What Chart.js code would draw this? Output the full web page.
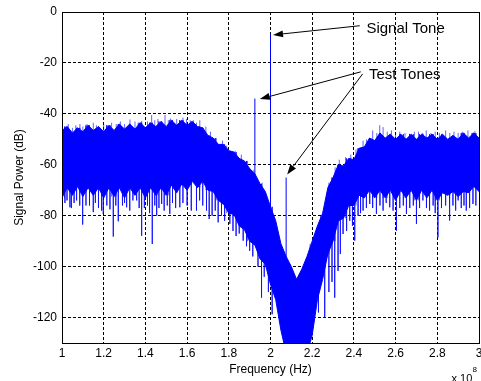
<!DOCTYPE html>
<html>
<head>
<meta charset="utf-8">
<script src="https://cdn.jsdelivr.net/npm/chart.js@4.4.0/dist/chart.umd.min.js"></script>
<style>
  html, body { margin: 0; padding: 0; background: #fff; overflow: hidden; }
  canvas { display: block; }
</style>
</head>
<body>
<canvas id="spectrum" width="481" height="381"></canvas>
<script>
// Frequencies are in units of 1e8 Hz, power in dB.

// Sample grid of the noise floor band
const bandFreqs = [
  1, 1.025, 1.05, 1.075, 1.1, 1.125, 1.15, 1.175, 1.2, 1.225,
  1.25, 1.275, 1.3, 1.325, 1.35, 1.375, 1.4, 1.425, 1.45, 1.475,
  1.5, 1.525, 1.55, 1.575, 1.6, 1.625, 1.65, 1.675, 1.7, 1.725,
  1.75, 1.775, 1.8, 1.825, 1.85, 1.875, 1.9, 1.925, 1.95, 1.975,
  2, 2.025, 2.05, 2.075, 2.1, 2.125, 2.15, 2.175, 2.2, 2.225,
  2.25, 2.275, 2.3, 2.325, 2.35, 2.375, 2.4, 2.425, 2.45, 2.475,
  2.5, 2.525, 2.55, 2.575, 2.6, 2.625, 2.65, 2.675, 2.7, 2.725,
  2.75, 2.775, 2.8, 2.825, 2.85, 2.875, 2.9, 2.925, 2.95, 2.975, 3
];

// Upper edge of the dense noise floor
const bandUpper = [
  -46.5, -45, -47.5, -45.5, -47, -44.5, -46.5, -45, -47, -44.5,
  -46.5, -44, -46, -44, -46, -43.5, -45.5, -43.5, -45, -43,
  -45, -42.5, -44.5, -42.5, -44.5, -43, -45, -45.5, -48.5, -49.5,
  -52, -52, -54.5, -55, -57.5, -58.5, -61.5, -63.5, -67.5, -70.5,
  -76.5, -82, -91, -96, -100, -105, -101, -96, -90, -84,
  -79, -69, -65, -60, -60.5, -57.5, -58, -53.5, -53, -49.5,
  -50.5, -47.5, -49.5, -48, -50, -48, -50, -48, -50, -48,
  -49.5, -48, -50, -48, -50, -48.5, -50, -47.5, -49.5, -47.5, -49.5
];

// Lower edge of the dense noise floor
const bandLower = [
  -73, -69, -72, -68.5, -72.5, -69, -72, -69, -73, -69,
  -72.5, -69, -73, -69, -72, -69, -73, -69, -72, -69,
  -72, -68, -71, -67.5, -70, -66.5, -69, -66.5, -70, -70.5,
  -74, -75.5, -79, -79.5, -84, -85.5, -90, -91.5, -97, -99,
  -107, -113, -125, -134, -136, -136, -136, -134, -127, -113,
  -105, -95, -90, -82, -81, -76, -76, -72, -73, -70,
  -73, -70, -73, -70, -74, -70, -73, -70, -74, -70,
  -73, -70, -74, -71, -72, -70.5, -72.5, -70.5, -71, -68.5, -70.5
];

// Isolated downward noise spikes
const dipFreqs = [
  1.002, 1.014, 1.024, 1.038, 1.045, 1.058, 1.07, 1.085, 1.099, 1.115,
  1.132, 1.15, 1.16, 1.175, 1.19, 1.198, 1.215, 1.23, 1.246, 1.258,
  1.27, 1.29, 1.3, 1.31, 1.325, 1.34, 1.358, 1.37, 1.382, 1.395,
  1.41, 1.42, 1.433, 1.445, 1.454, 1.465, 1.478, 1.49, 1.505, 1.517,
  1.53, 1.545, 1.565, 1.58, 1.6, 1.62, 1.645, 1.66, 1.675, 1.693,
  1.706, 1.72, 1.735, 1.749, 1.765, 1.78, 1.805, 1.82, 1.835, 1.85,
  1.869, 1.885, 1.9, 1.915, 1.94, 1.957, 1.97, 1.99, 2.008, 2.23,
  2.26, 2.28, 2.295, 2.308, 2.324, 2.335, 2.348, 2.365, 2.38, 2.393,
  2.404, 2.42, 2.432, 2.444, 2.46, 2.476, 2.49, 2.508, 2.525, 2.54,
  2.555, 2.572, 2.588, 2.604, 2.62, 2.637, 2.652, 2.668, 2.685, 2.7,
  2.715, 2.731, 2.748, 2.763, 2.78, 2.79, 2.803, 2.82, 2.84, 2.859,
  2.875, 2.888, 2.9, 2.915, 2.928, 2.939, 2.955, 2.971, 2.985
];
const dipLevels = [
  -100, -75, -74, -76.7, -77, -75, -74, -76, -83.5, -76,
  -76, -78.6, -75, -77, -78, -79.3, -76, -77.5, -88.2, -76,
  -82.2, -76, -75, -76.7, -78, -74, -74, -77, -87.9, -77,
  -76, -79, -91.1, -76, -80, -77, -75.4, -78, -76, -79.3,
  -75, -77, -76.7, -75, -76, -78, -78, -74, -76, -78,
  -81.3, -80, -78, -82.6, -80, -82, -83.2, -86, -88, -87,
  -89.8, -92, -93.8, -96, -100, -112.2, -104, -110, -118.7, -118,
  -120, -110, -106, -112.2, -101.7, -95, -87.2, -86, -82, -84,
  -89.8, -80, -79, -78, -77, -75.4, -77, -79.3, -76, -78,
  -75, -76.7, -78, -85.9, -77, -76, -79.3, -77, -76, -83.2,
  -77, -74, -77, -78, -76, -79, -88.5, -77, -76, -81.9,
  -76, -78, -74, -77, -76, -78, -77, -75.4, -76
];

// Isolated upward noise spikes
const peakFreqs = [
  1.012, 1.03, 1.05, 1.066, 1.086, 1.1, 1.12, 1.15, 1.165, 1.2,
  1.215, 1.238, 1.26, 1.28, 1.3, 1.326, 1.35, 1.365, 1.382, 1.41,
  1.43, 1.445, 1.46, 1.494, 1.51, 1.52, 1.55, 1.565, 1.58, 1.597,
  1.615, 1.63, 1.645, 1.661, 1.69, 1.712, 1.74, 1.77, 1.79, 1.83,
  1.86, 1.89, 1.92, 1.96, 2.19, 2.24, 2.28, 2.31, 2.33, 2.36,
  2.385, 2.41, 2.444, 2.46, 2.49, 2.51, 2.524, 2.54, 2.56, 2.58,
  2.6, 2.62, 2.645, 2.667, 2.69, 2.71, 2.73, 2.747, 2.77, 2.79,
  2.81, 2.84, 2.86, 2.88, 2.9, 2.92, 2.947, 2.965, 2.98
];
const peakLevels = [
  -45, -44, -45.5, -44.5, -44, -45, -44, -43.5, -44.5, -44,
  -44.5, -43.5, -44, -43, -44, -42.2, -43, -43.5, -42.8, -43,
  -40.5, -42.5, -42, -40.5, -42.5, -41.8, -42, -42.5, -41.5, -42,
  -42.5, -42.5, -43.5, -42.5, -45, -47, -49.5, -50.5, -52.5, -54.5,
  -56, -58.5, -62, -67, -91, -80, -67, -61, -58, -57,
  -56, -54, -50.5, -50, -46.5, -47.5, -44.5, -45.2, -47, -46.5,
  -47.5, -47, -47.5, -47.8, -47, -47, -47.5, -46.5, -47.5, -47,
  -47.5, -46.5, -47.5, -47, -47.5, -47, -46.5, -47.5, -46.8
];

// Injected tones: two test tones around the signal tone
const toneFreqs = [1.925, 2.0, 2.075];
const toneLevels = [-34, -8.5, -65];

// Axis ticks
const xTickValues = [1, 1.2, 1.4, 1.6, 1.8, 2, 2.2, 2.4, 2.6, 2.8, 3];
const xTickLabels = ['1', '1.2', '1.4', '1.6', '1.8', '2', '2.2', '2.4', '2.6', '2.8', '3'];
const yTickValues = [0, -20, -40, -60, -80, -100, -120];
const yTickLabels = ['0', '-20', '-40', '-60', '-80', '-100', '-120'];

// Callout labels and their arrows (data coordinates)
const noteTexts = ['Signal Tone', 'Test Tones'];
const noteFreqs = [2.46, 2.472];
const noteLevels = [-6.6, -24.7];
const arrowTailFreqs = [2.428, 2.433, 2.442];
const arrowTailLevels = [-5.4, -23.5, -24.3];
const arrowTipFreqs = [2.012, 1.949, 2.08];
const arrowTipLevels = [-9, -34.2, -63.8];

const FONT = "'Liberation Sans', Arial, Helvetica, sans-serif";
const BLUE = '#0000ff';
const SPIKE_BLUE = 'rgba(0, 0, 255, 0.62)';

function nearestIndex(f) {
  let best = 0;
  for (let i = 1; i < bandFreqs.length; i++) {
    if (Math.abs(bandFreqs[i] - f) < Math.abs(bandFreqs[best] - f)) best = i;
  }
  return best;
}

// Vertical strokes: each runs from inside the band out to its level
function strokes(freqs, levels, baseArr) {
  const pts = [];
  freqs.forEach((f, i) => {
    const k = nearestIndex(f);
    pts.push({ x: f, y: baseArr[k] }, { x: f, y: levels[i] }, { x: f, y: null });
  });
  return pts;
}

const upperPts = bandFreqs.map((f, i) => ({ x: f, y: bandUpper[i] }));
const lowerPts = bandFreqs.map((f, i) => ({ x: f, y: bandLower[i] }));

const lineStyle = { pointRadius: 0, borderWidth: 1, tension: 0, borderColor: BLUE, spanGaps: false };

const framePlugin = {
  id: 'frameAndNotes',
  afterDraw(chart) {
    const { ctx, chartArea: ca, scales: { x, y } } = chart;
    ctx.save();
    // axes box
    ctx.strokeStyle = '#000';
    ctx.lineWidth = 1;
    ctx.setLineDash([]);
    ctx.beginPath();
    ctx.moveTo(Math.round(ca.left) + 0.5, Math.round(ca.bottom) + 0.5);
    ctx.lineTo(Math.round(ca.left) + 0.5, Math.round(ca.top) + 0.5);
    ctx.lineTo(Math.round(ca.right) + 0.5, Math.round(ca.top) + 0.5);
    ctx.lineTo(Math.round(ca.right) + 0.5, Math.round(ca.bottom) + 0.5);
    ctx.stroke();

    // arrows
    ctx.fillStyle = '#000';
    for (let i = 0; i < arrowTailFreqs.length; i++) {
      const x0 = x.getPixelForValue(arrowTailFreqs[i]);
      const y0 = y.getPixelForValue(arrowTailLevels[i]);
      const x1 = x.getPixelForValue(arrowTipFreqs[i]);
      const y1 = y.getPixelForValue(arrowTipLevels[i]);
      const ang = Math.atan2(y1 - y0, x1 - x0);
      const len = 10, half = 3.5;
      const bx = x1 - len * Math.cos(ang), by = y1 - len * Math.sin(ang);
      ctx.beginPath();
      ctx.moveTo(x0, y0);
      ctx.lineTo(bx, by);
      ctx.stroke();
      ctx.beginPath();
      ctx.moveTo(x1, y1);
      ctx.lineTo(bx + half * Math.sin(ang), by - half * Math.cos(ang));
      ctx.lineTo(bx - half * Math.sin(ang), by + half * Math.cos(ang));
      ctx.closePath();
      ctx.fill();
    }

    // callout texts
    ctx.font = '15px ' + FONT;
    ctx.textAlign = 'left';
    ctx.textBaseline = 'middle';
    noteTexts.forEach((t, i) => {
      ctx.fillText(t, x.getPixelForValue(noteFreqs[i]), y.getPixelForValue(noteLevels[i]));
    });

    // axis multiplier
    ctx.textBaseline = 'alphabetic';
    ctx.font = '11px ' + FONT;
    ctx.fillText('x 10', ca.right - 27.5, chart.height + 1);
    ctx.font = '8px ' + FONT;
    ctx.fillText('8', ca.right - 6.5, chart.height - 9.5);
    ctx.restore();
  }
};

new Chart(document.getElementById('spectrum'), {
  type: 'line',
  data: {
    datasets: [
      { data: strokes(toneFreqs, toneLevels, bandLower), ...lineStyle, fill: false },
      { data: strokes(dipFreqs, dipLevels, bandUpper), ...lineStyle, borderColor: SPIKE_BLUE, fill: false },
      { data: strokes(peakFreqs, peakLevels, bandLower), ...lineStyle, borderColor: SPIKE_BLUE, fill: false },
      { data: upperPts, ...lineStyle, fill: '+1', backgroundColor: BLUE },
      { data: lowerPts, ...lineStyle, fill: false }
    ]
  },
  options: {
    responsive: false,
    animation: false,
    events: [],
    layout: { padding: { top: 12, right: 2, left: 0, bottom: 0 } },
    plugins: { legend: { display: false }, tooltip: { enabled: false } },
    scales: {
      x: {
        type: 'linear',
        min: 1,
        max: 3,
        afterBuildTicks: (axis) => { axis.ticks = xTickValues.map(v => ({ value: v })); },
        afterFit: (axis) => { axis.height = 38; axis.paddingLeft = 0; axis.paddingRight = 0; },
        ticks: {
          autoSkip: false,
          maxRotation: 0,
          padding: 3,
          color: '#000',
          font: { family: FONT, size: 12 },
          callback: (v, i) => xTickLabels[i]
        },
        grid: { color: '#000', lineWidth: 1, drawTicks: false },
        border: { color: '#000', width: 1, dash: [3, 2] },
        title: {
          display: true,
          text: 'Frequency (Hz)',
          color: '#000',
          font: { family: FONT, size: 12 },
          padding: { top: 0, bottom: 4 }
        }
      },
      y: {
        type: 'linear',
        min: -130,
        max: 0,
        afterBuildTicks: (axis) => { axis.ticks = yTickValues.map(v => ({ value: v })); },
        afterFit: (axis) => { axis.width = 62; axis.paddingTop = 0; axis.paddingBottom = 0; },
        ticks: {
          padding: 5,
          color: '#000',
          font: { family: FONT, size: 12 },
          callback: (v, i) => yTickLabels[i]
        },
        grid: { color: '#000', lineWidth: 1, drawTicks: false },
        border: { color: '#000', width: 1, dash: [3, 2] },
        title: {
          display: true,
          text: 'Signal Power (dB)',
          color: '#000',
          font: { family: FONT, size: 12 },
          padding: { top: 12, bottom: 0 }
        }
      }
    }
  },
  plugins: [framePlugin]
});
</script>
</body>
</html>
